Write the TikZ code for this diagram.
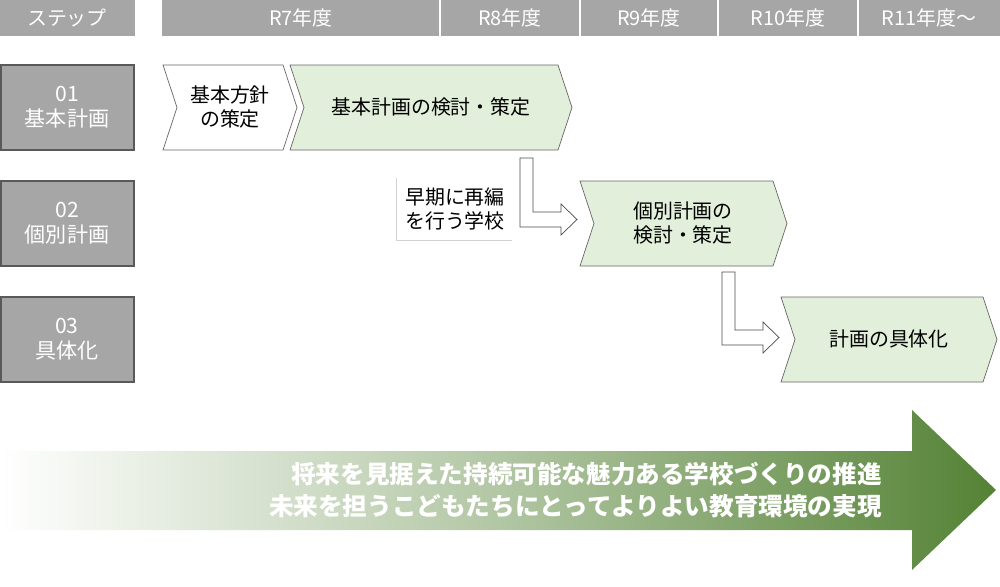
\documentclass[tikz,border=0pt]{standalone}
\usepackage{fontspec}
\setmainfont{Noto Sans CJK JP}
\usepackage{xcolor}
\usetikzlibrary{positioning,calc}
\definecolor{hdgray}{HTML}{A6A6A6}
\definecolor{lgreen}{HTML}{E2EFDA}
\definecolor{dgreen}{HTML}{548235}
\newcommand{\chev}[5]{% x1,y1,x2,y2,fill
  \draw[chevline, fill=#5] (#1,#2) -- ({#3-14},#2) -- (#3,{(#2+#4)/2}) -- ({#3-14},#4)
    -- (#1,#4) -- ({#1+14},{(#2+#4)/2}) -- cycle;}
\begin{document}
\begin{tikzpicture}[
  x=0.03cm, y=-0.03cm,
  every node/.style={font=\fontsize{17}{21}\selectfont, align=center, inner sep=0pt},
  hdr/.style={text=white, font=\fontsize{17}{20}\selectfont},
  stepbox/.style={draw=black!65, line width=1.2pt, fill=hdgray},
  steptext/.style={text=white, font=\fontsize{18}{21}\selectfont},
  chevline/.style={draw=black!60, line width=0.6pt},
  fatarrow/.style={draw=black!70, line width=0.6pt, fill=white},
  mtext/.style={text=white, font=\bfseries\fontsize{21}{27}\selectfont, align=right}
]
  \useasboundingbox (0,0) rectangle (1000,587);

  % header
  \fill[hdgray] (0,0) rectangle (135,36);
  \node[hdr] (hstep) at (67,18) {ステップ};
  \fill[hdgray] (162,0) rectangle (1000,36);
  \foreach \xs in {440,580,718,858}
    \draw[white, line width=1.2pt] (\xs,0) -- (\xs,36);
  \node[hdr] (h7) at (301,18) {R7年度};
  \node[hdr] (h8) at (510,18) {R8年度};
  \node[hdr] (h9) at (649,18) {R9年度};
  \node[hdr] (h10) at (788,18) {R10年度};
  \node[hdr] (h11) at (929,18) {R11年度～};

  % steps
  \draw[stepbox] (1,65) rectangle (134,150);
  \node[steptext] (s1) at (67,107) {01\\基本計画};
  \draw[stepbox] (1,181) rectangle (134,266);
  \node[steptext] (s2) at (67,223) {02\\個別計画};
  \draw[stepbox] (1,297) rectangle (134,382);
  \node[steptext] (s3) at (67,339) {03\\具体化};

  % chevrons
  \chev{163}{65}{297}{150}{white}
  \node (c0) at (230,107) {基本方針\\の策定};
  \chev{290}{65}{572}{150}{lgreen}
  \node (c1) at (431,107) {基本計画の検討・策定};
  \chev{580}{181}{787}{266}{lgreen}
  \node (c2) at (683,223) {個別計画の\\検討・策定};
  \chev{781}{297}{997}{382}{lgreen}
  \node (c3) at (889,339) {計画の具体化};

  % transitions
  \draw[fatarrow] (520,158) -- (533,158) -- (533,212) -- (561,212) -- (561,204)
    -- (577,219.5) -- (561,235) -- (561,227) -- (520,227) -- cycle;
  \draw[fatarrow] (722,272) -- (735,272) -- (735,330) -- (763,330) -- (763,322)
    -- (779,337.5) -- (763,353) -- (763,345) -- (722,345) -- cycle;
  \draw[gray!35, line width=0.8pt] (396,178) -- (396,240) -- (512,240);
  \node[font=\fontsize{17}{21}\selectfont] (early) at (455,209) {早期に再編\\を行う学校};

  % goal arrow
  \shade[left color=white, right color=dgreen, middle color=dgreen!45]
    (0,451) -- (912,451) -- (912,410) -- (996,490) -- (912,570) -- (912,530)
    -- (0,530) -- cycle;
  \node[mtext, anchor=east] (goal) at (882,490)
    {将来を見据えた持続可能な魅力ある学校づくりの推進\\未来を担うこどもたちにとってよりよい教育環境の実現};
\end{tikzpicture}
\end{document}
